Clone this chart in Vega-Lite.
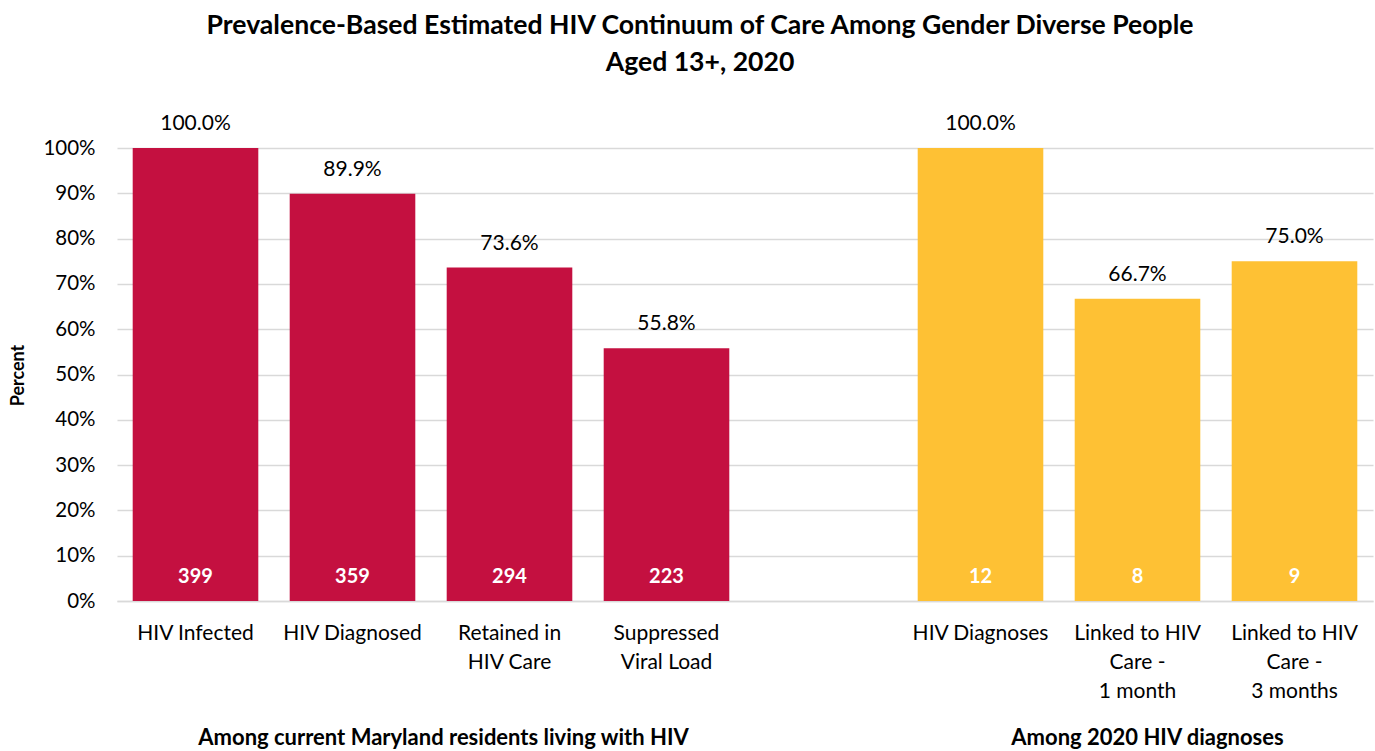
{
  "$schema": "https://vega.github.io/schema/vega-lite/v6.json",
  "autosize": {"type": "none"},
  "padding": {"left": 117, "top": 148, "right": 2, "bottom": 150},
  "width": 1256,
  "height": 453,
  "background": "white",
  "config": {"font": "Lato", "view": {"stroke": null}},
  "title": {
    "text": ["Prevalence-Based Estimated HIV Continuum of Care Among Gender Diverse People", "Aged 13+, 2020"],
    "fontSize": 26.6,
    "fontWeight": "bold",
    "color": "#000000",
    "lineHeight": 37,
    "anchor": "middle",
    "dx": -45,
    "offset": 36
  },
  "datasets": {
    "bars": [
      {"cat": "HIV Infected", "group": "current", "pct": 1.0, "n": "399", "lbl": "100.0%"},
      {"cat": "HIV Diagnosed", "group": "current", "pct": 0.899, "n": "359", "lbl": "89.9%"},
      {"cat": "Retained in|HIV Care", "group": "current", "pct": 0.736, "n": "294", "lbl": "73.6%"},
      {"cat": "Suppressed|Viral Load", "group": "current", "pct": 0.558, "n": "223", "lbl": "55.8%"},
      {"cat": "HIV Diagnoses", "group": "new", "pct": 1.0, "n": "12", "lbl": "100.0%"},
      {"cat": "Linked to HIV|Care -|1 month", "group": "new", "pct": 0.667, "n": "8", "lbl": "66.7%"},
      {"cat": "Linked to HIV|Care -|3 months", "group": "new", "pct": 0.75, "n": "9", "lbl": "75.0%"}
    ],
    "groupLeft": [
      {"cat": "HIV Diagnosed", "text": "Among current Maryland residents living with HIV"}
    ],
    "groupRight": [
      {"cat": "Linked to HIV|Care -|1 month", "text": "Among 2020 HIV diagnoses"}
    ]
  },
  "encoding": {
    "x": {
      "field": "cat",
      "type": "nominal",
      "sort": null,
      "scale": {
        "domain": ["HIV Infected", "HIV Diagnosed", "Retained in|HIV Care", "Suppressed|Viral Load", "gap", "HIV Diagnoses", "Linked to HIV|Care -|1 month", "Linked to HIV|Care -|3 months"],
        "paddingInner": 0.2,
        "paddingOuter": 0.1
      },
      "axis": {
        "title": null,
        "labelAngle": 0,
        "labelExpr": "datum.value == 'gap' ? '' : split(datum.value, '|')",
        "labelFontSize": 21,
        "labelColor": "#000000",
        "labelLineHeight": 29,
        "labelPadding": 21,
        "labelBaseline": "top",
        "ticks": false,
        "domain": true,
        "domainColor": "#d9d9d9",
        "domainWidth": 1.5,
        "labelFont": "Lato"
      }
    }
  },
  "layer": [
    {
      "data": {"name": "bars"},
      "mark": {"type": "bar"},
      "encoding": {
        "y": {
          "field": "pct",
          "type": "quantitative",
          "scale": {"domain": [0, 1], "nice": false},
          "axis": {
            "values": [0, 0.1, 0.2, 0.3, 0.4, 0.5, 0.6, 0.7, 0.8, 0.9, 1.0],
            "format": ".0%",
            "title": "Percent",
            "titleFontSize": 18,
            "titleFontWeight": "bold",
            "titleColor": "#000000",
            "titleX": -90,
            "titleY": 227,
            "titleAngle": -90,
            "titleBaseline": "bottom",
            "titleAnchor": "middle",
            "labelFontSize": 20.5,
            "labelColor": "#000000",
            "labelPadding": 22,
            "ticks": false,
            "domain": false,
            "grid": true,
            "gridColor": "#d9d9d9",
            "gridWidth": 1.5
          }
        },
        "color": {
          "field": "group",
          "type": "nominal",
          "scale": {"domain": ["current", "new"], "range": ["#C41040", "#FEC134"]},
          "legend": null
        }
      }
    },
    {
      "data": {"name": "bars"},
      "mark": {"type": "text", "baseline": "middle", "dy": -24, "fontSize": 21, "color": "#000000"},
      "encoding": {
        "y": {"field": "pct", "type": "quantitative"},
        "text": {"field": "lbl"}
      }
    },
    {
      "data": {"name": "bars"},
      "mark": {"type": "text", "baseline": "middle", "dy": -24, "fontSize": 20, "fontWeight": "bold", "color": "#ffffff"},
      "encoding": {
        "y": {"datum": 0, "type": "quantitative"},
        "text": {"field": "n"}
      }
    },
    {
      "data": {"name": "groupLeft"},
      "mark": {"type": "text", "baseline": "middle", "dx": 91, "fontSize": 22, "fontWeight": "bold", "color": "#000000"},
      "encoding": {
        "y": {"datum": -0.302, "type": "quantitative"},
        "text": {"field": "text"}
      }
    },
    {
      "data": {"name": "groupRight"},
      "mark": {"type": "text", "baseline": "middle", "dx": 10, "fontSize": 22, "fontWeight": "bold", "color": "#000000"},
      "encoding": {
        "y": {"datum": -0.302, "type": "quantitative"},
        "text": {"field": "text"}
      }
    }
  ]
}
